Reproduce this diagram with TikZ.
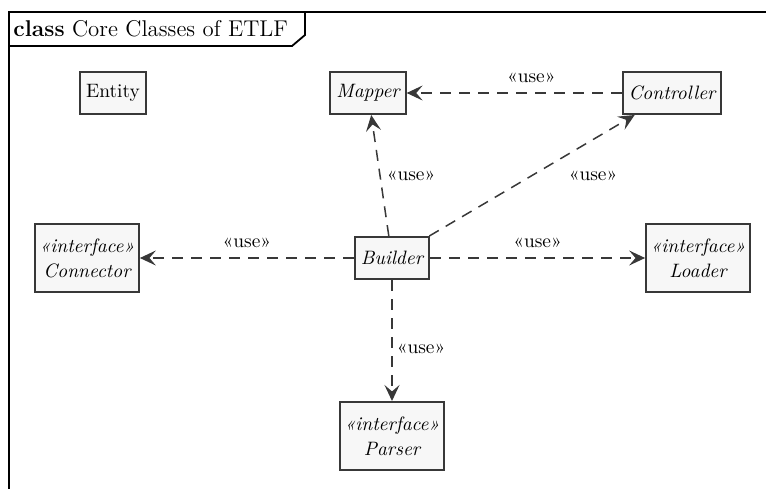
\documentclass[tikz,border=0pt]{standalone}
\usepackage{fontspec}
\usepackage{tikz}
\usetikzlibrary{arrows.meta}
\definecolor{umlline}{HTML}{383838}
\definecolor{umlfill}{HTML}{F7F7F7}

\begin{document}
\begin{tikzpicture}[x=.5pt,y=.5pt,
	classbox/.style={draw=umlline, fill=umlfill, line width=1pt, inner xsep=3pt, inner ysep=2pt,
		minimum height=21pt, font=\fontsize{9.7pt}{12pt}\selectfont},
	abstractbox/.style={classbox, font=\fontsize{9.7pt}{12pt}\selectfont\itshape},
	interfacebox/.style={classbox, inner xsep=2.2pt, minimum height=34pt, align=center,
		font=\fontsize{9.7pt}{12.5pt}\selectfont\itshape},
	usearrow/.style={umlline, line width=.75pt, dash pattern=on 5.5pt off 4pt,
		-{Stealth[length=8pt, width=7.5pt, inset=3.2pt]}},
	uselabel/.style={font=\fontsize{9.7pt}{12pt}\selectfont, text=black, inner sep=1pt}]
	\useasboundingbox (0,0) rectangle (766,489);
	
	% draw the frame and its title tab
	\draw[black, line width=.9pt] (766,477) -- (9,477) -- (9,0);
	\draw[black, line width=.9pt] (9,443) -- (292,443) -- (305,454) -- (305,477);
	\node[anchor=west, inner sep=0pt, font=\fontsize{11.4pt}{14pt}\selectfont] (frametitle) at (13,460)
		{\textbf{class} Core Classes of ETLF};
	
	% the classes
	\node[classbox] (entity) at (113,396) {Entity};
	\node[abstractbox] (mapper) at (368,396) {Mapper};
	\node[abstractbox] (controller) at (672,396) {Controller};
	\node[abstractbox] (builder) at (392,231) {Builder};
	\node[interfacebox] (connector) at (87,231) {«interface»\\Connector};
	\node[interfacebox] (loader) at (698,231) {«interface»\\Loader};
	\node[interfacebox] (parser) at (392,53) {«interface»\\Parser};
	
	% the dependencies
	\draw[usearrow] (controller) -- (mapper) node[uselabel, pos=.42, above=4pt] {«use»};
	\draw[usearrow] (builder) -- (mapper) node[uselabel, pos=.5, anchor=west, xshift=2pt] {«use»};
	\draw[usearrow] (builder) -- (controller) node[uselabel, pos=.5, anchor=west, xshift=17pt] {«use»};
	\draw[usearrow] (builder) -- (connector) node[uselabel, pos=.5, above=4pt] {«use»};
	\draw[usearrow] (builder) -- (loader) node[uselabel, pos=.5, above=4pt] {«use»};
	\draw[usearrow] (builder) -- (parser) node[uselabel, pos=.57, anchor=west, xshift=1pt] {«use»};
\end{tikzpicture}
\end{document}
